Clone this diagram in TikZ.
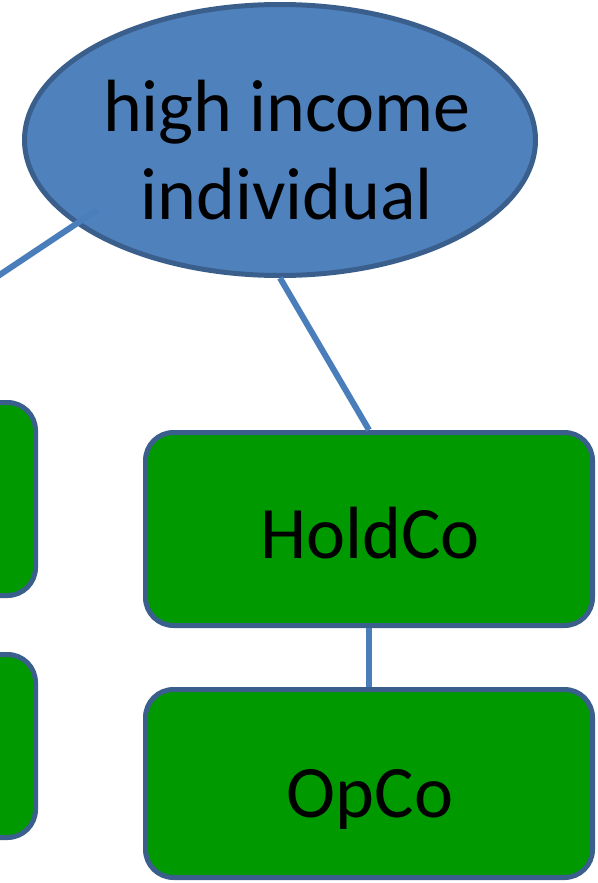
\documentclass[tikz,border=0pt]{standalone}
\usepackage{fontspec}
\setmainfont{Carlito}
\usetikzlibrary{shapes.geometric}
\definecolor{ellfill}{HTML}{4F81BD}
\definecolor{edgeblue}{HTML}{3B5F8C}
\definecolor{linkblue}{HTML}{4A7EBB}
\definecolor{boxgreen}{HTML}{009900}
\tikzset{
  bubble/.style={ellipse, draw=edgeblue, fill=ellfill, line width=5pt, inner sep=0pt,
    minimum width=511pt, minimum height=271pt},
  cobox/.style={rectangle, rounded corners=28pt, draw=edgeblue, fill=boxgreen, line width=5pt,
    inner sep=0pt, minimum width=447pt},
  bigtext/.style={font=\fontsize{74}{88}\selectfont, align=center, inner sep=0pt},
  link/.style={draw=linkblue, line width=6pt}
}
\begin{document}
\begin{tikzpicture}[x=1pt,y=-1pt]
\useasboundingbox (0,0) rectangle (597,883);
\clip (0,0) rectangle (597,883);
\node[cobox, minimum height=193pt] (lefttop) at (-188,499) {};
\node[cobox, minimum height=183pt] (leftbot) at (-188,746) {};
\node[cobox, minimum height=193pt] (holdco) at (369,529) {};
\node[cobox, minimum height=188pt] (opco) at (369,783.5) {};
\node[bigtext, anchor=base] (holdtxt) at (370,558) {HoldCo};
\node[bigtext, anchor=base] (optxt) at (370,817) {OpCo};
\node[bubble] (ell) at (280,140) {};
\node[bigtext, anchor=base] (elltxt1) at (287,131) {high income};
\node[bigtext, anchor=base] (elltxt2) at (287,219) {individual};
\coordinate (lstart) at (97,210);
\draw[link] (ell.south) -- (holdco.north);
\draw[link] (holdco.south) -- (opco.north);
\draw[link] (lstart) -- (lefttop.north);
\end{tikzpicture}
\end{document}
